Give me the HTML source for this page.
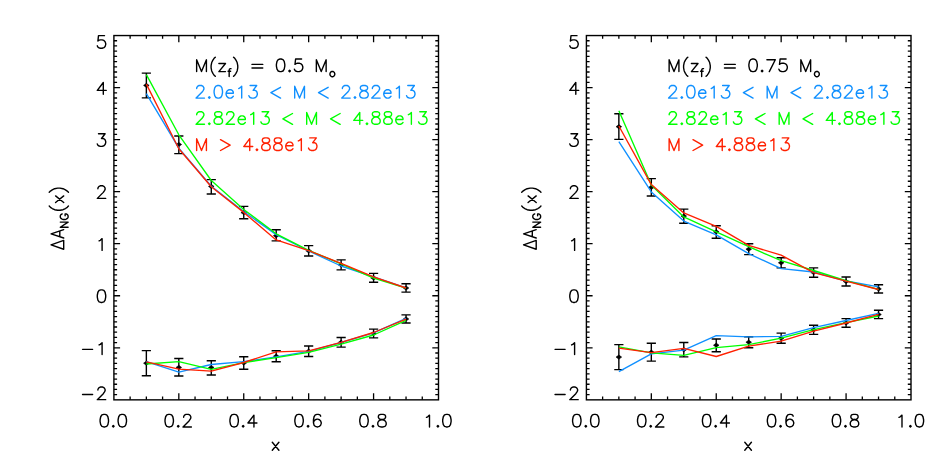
<!DOCTYPE html>
<html><head><meta charset="utf-8"><title>Delta A_NG(x)</title>
<style>html,body{margin:0;padding:0;background:#fff;font-family:"Liberation Sans",sans-serif}svg{display:block}</style>
</head><body>
<svg width="945" height="472" viewBox="0 0 945 472">
<style>.t{fill:none;stroke-width:1.4;stroke-linecap:round;stroke-linejoin:round}.l{fill:none;stroke-width:1.35;stroke-linejoin:round;stroke-linecap:butt}.h text{font-family:"Liberation Sans",sans-serif;font-size:17px;fill:none;stroke:none;opacity:0}</style>
<rect width="945" height="472" fill="#fff"/>
<rect x="113.9" y="35.55" width="324.6" height="364.3" fill="none" stroke="#000" stroke-width="1.4"/>
<path d="M130.13 399.85v-3.3M130.13 35.55v3.3M146.36 399.85v-3.3M146.36 35.55v3.3M162.59 399.85v-3.3M162.59 35.55v3.3M178.82 399.85v-6.6M178.82 35.55v6.6M195.05 399.85v-3.3M195.05 35.55v3.3M211.28 399.85v-3.3M211.28 35.55v3.3M227.51 399.85v-3.3M227.51 35.55v3.3M243.74 399.85v-6.6M243.74 35.55v6.6M259.97 399.85v-3.3M259.97 35.55v3.3M276.2 399.85v-3.3M276.2 35.55v3.3M292.43 399.85v-3.3M292.43 35.55v3.3M308.66 399.85v-6.6M308.66 35.55v6.6M324.89 399.85v-3.3M324.89 35.55v3.3M341.12 399.85v-3.3M341.12 35.55v3.3M357.35 399.85v-3.3M357.35 35.55v3.3M373.58 399.85v-6.6M373.58 35.55v6.6M389.81 399.85v-3.3M389.81 35.55v3.3M406.04 399.85v-3.3M406.04 35.55v3.3M422.27 399.85v-3.3M422.27 35.55v3.3M113.9 40.75h3.2M438.5 40.75h-3.2M113.9 45.96h3.2M438.5 45.96h-3.2M113.9 51.16h3.2M438.5 51.16h-3.2M113.9 56.37h3.2M438.5 56.37h-3.2M113.9 61.57h3.2M438.5 61.57h-3.2M113.9 66.78h3.2M438.5 66.78h-3.2M113.9 71.98h3.2M438.5 71.98h-3.2M113.9 77.18h3.2M438.5 77.18h-3.2M113.9 82.39h3.2M438.5 82.39h-3.2M113.9 87.59h6.2M438.5 87.59h-6.2M113.9 92.8h3.2M438.5 92.8h-3.2M113.9 98h3.2M438.5 98h-3.2M113.9 103.21h3.2M438.5 103.21h-3.2M113.9 108.41h3.2M438.5 108.41h-3.2M113.9 113.61h3.2M438.5 113.61h-3.2M113.9 118.82h3.2M438.5 118.82h-3.2M113.9 124.02h3.2M438.5 124.02h-3.2M113.9 129.23h3.2M438.5 129.23h-3.2M113.9 134.43h3.2M438.5 134.43h-3.2M113.9 139.64h6.2M438.5 139.64h-6.2M113.9 144.84h3.2M438.5 144.84h-3.2M113.9 150.04h3.2M438.5 150.04h-3.2M113.9 155.25h3.2M438.5 155.25h-3.2M113.9 160.45h3.2M438.5 160.45h-3.2M113.9 165.66h3.2M438.5 165.66h-3.2M113.9 170.86h3.2M438.5 170.86h-3.2M113.9 176.07h3.2M438.5 176.07h-3.2M113.9 181.27h3.2M438.5 181.27h-3.2M113.9 186.47h3.2M438.5 186.47h-3.2M113.9 191.68h6.2M438.5 191.68h-6.2M113.9 196.88h3.2M438.5 196.88h-3.2M113.9 202.09h3.2M438.5 202.09h-3.2M113.9 207.29h3.2M438.5 207.29h-3.2M113.9 212.5h3.2M438.5 212.5h-3.2M113.9 217.7h3.2M438.5 217.7h-3.2M113.9 222.9h3.2M438.5 222.9h-3.2M113.9 228.11h3.2M438.5 228.11h-3.2M113.9 233.31h3.2M438.5 233.31h-3.2M113.9 238.52h3.2M438.5 238.52h-3.2M113.9 243.72h6.2M438.5 243.72h-6.2M113.9 248.93h3.2M438.5 248.93h-3.2M113.9 254.13h3.2M438.5 254.13h-3.2M113.9 259.33h3.2M438.5 259.33h-3.2M113.9 264.54h3.2M438.5 264.54h-3.2M113.9 269.74h3.2M438.5 269.74h-3.2M113.9 274.95h3.2M438.5 274.95h-3.2M113.9 280.15h3.2M438.5 280.15h-3.2M113.9 285.36h3.2M438.5 285.36h-3.2M113.9 290.56h3.2M438.5 290.56h-3.2M113.9 295.76h6.2M438.5 295.76h-6.2M113.9 300.97h3.2M438.5 300.97h-3.2M113.9 306.17h3.2M438.5 306.17h-3.2M113.9 311.38h3.2M438.5 311.38h-3.2M113.9 316.58h3.2M438.5 316.58h-3.2M113.9 321.79h3.2M438.5 321.79h-3.2M113.9 326.99h3.2M438.5 326.99h-3.2M113.9 332.19h3.2M438.5 332.19h-3.2M113.9 337.4h3.2M438.5 337.4h-3.2M113.9 342.6h3.2M438.5 342.6h-3.2M113.9 347.81h6.2M438.5 347.81h-6.2M113.9 353.01h3.2M438.5 353.01h-3.2M113.9 358.22h3.2M438.5 358.22h-3.2M113.9 363.42h3.2M438.5 363.42h-3.2M113.9 368.62h3.2M438.5 368.62h-3.2M113.9 373.83h3.2M438.5 373.83h-3.2M113.9 379.03h3.2M438.5 379.03h-3.2M113.9 384.24h3.2M438.5 384.24h-3.2M113.9 389.44h3.2M438.5 389.44h-3.2M113.9 394.65h3.2M438.5 394.65h-3.2" stroke="#000" stroke-width="1.3" fill="none"/>
<path class="t" d="M103.7 414.35L104.9 414.35L106.7 414.95L107.9 416.75L108.5 419.75L108.5 421.55L107.9 424.55L106.7 426.35L104.9 426.95L103.7 426.95L101.9 426.35L100.7 424.55L100.1 421.55L100.1 419.75L100.7 416.75L101.9 414.95L103.7 414.35M113.3 425.54L112.55 426.29L113.3 427.04L114.05 426.29L113.3 425.54M121.7 414.35L122.9 414.35L124.7 414.95L125.9 416.75L126.5 419.75L126.5 421.55L125.9 424.55L124.7 426.35L122.9 426.95L121.7 426.95L119.9 426.35L118.7 424.55L118.1 421.55L118.1 419.75L118.7 416.75L119.9 414.95L121.7 414.35M168.62 414.35L169.82 414.35L171.62 414.95L172.82 416.75L173.42 419.75L173.42 421.55L172.82 424.55L171.62 426.35L169.82 426.95L168.62 426.95L166.82 426.35L165.62 424.55L165.02 421.55L165.02 419.75L165.62 416.75L166.82 414.95L168.62 414.35M178.22 425.54L177.47 426.29L178.22 427.04L178.97 426.29L178.22 425.54M183.62 417.35L183.62 416.75L184.22 415.55L184.82 414.95L186.02 414.35L188.42 414.35L189.62 414.95L190.22 415.55L190.82 416.75L190.82 417.95L190.22 419.15L189.02 420.95L183.02 426.95L191.42 426.95M233.54 414.35L234.74 414.35L236.54 414.95L237.74 416.75L238.34 419.75L238.34 421.55L237.74 424.55L236.54 426.35L234.74 426.95L233.54 426.95L231.74 426.35L230.54 424.55L229.94 421.55L229.94 419.75L230.54 416.75L231.74 414.95L233.54 414.35M243.14 425.54L242.39 426.29L243.14 427.04L243.89 426.29L243.14 425.54M253.94 426.95L253.94 415.13L247.94 423.01L256.94 423.01M298.46 414.35L299.66 414.35L301.46 414.95L302.66 416.75L303.26 419.75L303.26 421.55L302.66 424.55L301.46 426.35L299.66 426.95L298.46 426.95L296.66 426.35L295.46 424.55L294.86 421.55L294.86 419.75L295.46 416.75L296.66 414.95L298.46 414.35M308.06 425.54L307.31 426.29L308.06 427.04L308.81 426.29L308.06 425.54M320.66 416.15L320.06 414.95L318.26 414.35L317.06 414.35L315.26 414.95L314.06 416.75L313.46 419.75L313.46 422.75L314.06 420.95L315.26 419.75L317.06 419.15L317.66 419.15L319.46 419.75L320.66 420.95L321.26 422.75L321.26 423.35L320.66 425.15L319.46 426.35L317.66 426.95L317.06 426.95L315.26 426.35L314.06 425.15L313.46 422.75M363.38 414.35L364.58 414.35L366.38 414.95L367.58 416.75L368.18 419.75L368.18 421.55L367.58 424.55L366.38 426.35L364.58 426.95L363.38 426.95L361.58 426.35L360.38 424.55L359.78 421.55L359.78 419.75L360.38 416.75L361.58 414.95L363.38 414.35M372.98 425.54L372.23 426.29L372.98 427.04L373.73 426.29L372.98 425.54M380.78 414.35L383.18 414.35L384.98 414.95L385.58 416.15L385.58 417.35L384.98 418.55L383.78 419.15L381.38 419.75L379.58 420.35L378.38 421.55L377.78 422.75L377.78 424.55L378.38 425.75L378.98 426.35L380.78 426.95L383.18 426.95L384.98 426.35L385.58 425.75L386.18 424.55L386.18 422.75L385.58 421.55L384.38 420.35L382.58 419.75L380.18 419.15L378.98 418.55L378.38 417.35L378.38 416.15L378.98 414.95L380.78 414.35M429.5 426.95L429.5 415.13L427.7 416.82L426.5 417.38M437.9 425.54L437.15 426.29L437.9 427.04L438.65 426.29L437.9 425.54M446.3 414.35L447.5 414.35L449.3 414.95L450.5 416.75L451.1 419.75L451.1 421.55L450.5 424.55L449.3 426.35L447.5 426.95L446.3 426.95L444.5 426.35L443.3 424.55L442.7 421.55L442.7 419.75L443.3 416.75L444.5 414.95L446.3 414.35M104.5 35.65L98.5 35.65L97.9 41.05L98.5 40.45L100.3 39.85L102.1 39.85L103.9 40.45L105.1 41.65L105.7 43.45L105.7 44.65L105.1 46.45L103.9 47.65L102.1 48.25L100.3 48.25L98.5 47.65L97.9 47.05L97.3 45.85M103.3 94.29L103.3 82.47L97.3 90.35L106.3 90.35M98.5 133.74L105.1 133.74L101.5 138.54L103.3 138.54L104.5 139.14L105.1 139.74L105.7 141.54L105.7 142.74L105.1 144.54L103.9 145.74L102.1 146.34L100.3 146.34L98.5 145.74L97.9 145.14L97.3 143.94M97.9 188.78L97.9 188.18L98.5 186.98L99.1 186.38L100.3 185.78L102.7 185.78L103.9 186.38L104.5 186.98L105.1 188.18L105.1 189.38L104.5 190.58L103.3 192.38L97.3 198.38L105.7 198.38M102.1 250.42L102.1 238.6L100.3 240.29L99.1 240.85M100.9 289.86L102.1 289.86L103.9 290.46L105.1 292.26L105.7 295.26L105.7 297.06L105.1 300.06L103.9 301.86L102.1 302.46L100.9 302.46L99.1 301.86L97.9 300.06L97.3 297.06L97.3 295.26L97.9 292.26L99.1 290.46L100.9 289.86M82.54 349.35L92.62 349.35M102.1 354.51L102.1 342.69L100.3 344.38L99.1 344.94M82.54 394.49L92.62 394.49M97.9 390.05L97.9 389.45L98.5 388.25L99.1 387.65L100.3 387.05L102.7 387.05L103.9 387.65L104.5 388.25L105.1 389.45L105.1 390.65L104.5 391.85L103.3 393.65L97.3 399.65L105.7 399.65M272.3 442.2L278.9 450.3M278.9 442.2L272.3 450.3M51.1 244.8L63.7 249.24L63.7 240.36L51.1 244.8M63.7 238.02L51.1 233.82L63.7 229.62M59.8 236.72L59.8 230.92M68.1 227.29L60.29 227.29L68.1 222.08L60.29 222.08M62.15 213.9L61.4 214.27L60.66 215.02L60.29 215.76L60.29 217.25L60.66 217.99L61.4 218.74L62.15 219.11L63.26 219.48L65.12 219.48L66.24 219.11L66.98 218.74L67.73 217.99L68.1 217.25L68.1 215.76L67.73 215.02L66.98 214.27L66.24 213.9L65.12 213.9L65.12 215.76M49.24 206.11L50.44 207.31L52.24 208.51L54.64 209.71L57.64 210.31L60.04 210.31L63.04 209.71L65.44 208.51L67.24 207.31L68.44 206.11M55.6 202.51L63.7 195.91M55.6 195.91L63.7 202.51M49.24 192.31L50.44 191.11L52.24 189.91L54.64 188.71L57.64 188.11L60.04 188.11L63.04 188.71L65.44 189.91L67.24 191.11L68.44 192.31M196.64 71.6L196.64 59.78L201.5 71.6L206.42 59.78L206.42 71.6M215.3 57.14L214.1 58.34L212.9 60.14L211.7 62.54L211.1 65.54L211.1 67.94L211.7 70.94L212.9 73.34L214.1 75.14L215.3 76.34M218.9 63.5L225.5 63.5L218.9 71.6L225.5 71.6M231.02 68.63L230.28 68.63L229.53 69.01L229.16 70.12L229.16 76.45M228.04 71.24L230.65 71.24M233.56 57.14L234.76 58.34L235.96 60.14L237.16 62.54L237.76 65.54L237.76 67.94L237.16 70.94L235.96 73.34L234.76 75.14L233.56 76.34M251.98 64.4L262.78 64.4M251.98 68L262.78 68M280 59L281.2 59L283 59.6L284.2 61.4L284.8 64.4L284.8 66.2L284.2 69.2L283 71L281.2 71.6L280 71.6L278.2 71L277 69.2L276.4 66.2L276.4 64.4L277 61.4L278.2 59.6L280 59M289.6 70.19L288.85 70.94L289.6 71.69L290.35 70.94L289.6 70.19M301.6 59L295.6 59L295 64.4L295.6 63.8L297.4 63.2L299.2 63.2L301 63.8L302.2 65L302.8 66.8L302.8 68L302.2 69.8L301 71L299.2 71.6L297.4 71.6L295.6 71L295 70.4L294.4 69.2M316.36 71.6L316.36 59.78L321.22 71.6L326.14 59.78L326.14 71.6M331.81 71.5L332.93 71.5L333.67 71.87L334.41 72.61L334.79 73.73L334.79 74.47L334.41 75.59L333.67 76.33L332.93 76.71L331.81 76.71L331.07 76.33L330.32 75.59L329.95 74.47L329.95 73.73L330.32 72.61L331.07 71.87L331.81 71.5" stroke="#000"/>
<path class="t" d="M196.7 88.5L196.7 87.9L197.3 86.7L197.9 86.1L199.1 85.5L201.5 85.5L202.7 86.1L203.3 86.7L203.9 87.9L203.9 89.1L203.3 90.3L202.1 92.1L196.1 98.1L204.5 98.1M209.3 96.69L208.55 97.44L209.3 98.19L210.05 97.44L209.3 96.69M217.7 85.5L218.9 85.5L220.7 86.1L221.9 87.9L222.5 90.9L222.5 92.7L221.9 95.7L220.7 97.5L218.9 98.1L217.7 98.1L215.9 97.5L214.7 95.7L214.1 92.7L214.1 90.9L214.7 87.9L215.9 86.1L217.7 85.5M226.1 93.3L226.7 91.5L227.9 90.3L229.1 89.7L230.9 89.7L232.1 90.3L232.7 90.9L233.3 92.1L233.3 93.3L226.1 93.3L226.1 94.5L226.7 96.3L227.9 97.5L229.1 98.1L230.9 98.1L232.1 97.5L233.3 96.3M241.7 98.1L241.7 86.28L239.9 87.97L238.7 88.53M250.1 85.5L256.7 85.5L253.1 90.3L254.9 90.3L256.1 90.9L256.7 91.5L257.3 93.3L257.3 94.5L256.7 96.3L255.5 97.5L253.7 98.1L251.9 98.1L250.1 97.5L249.5 96.9L248.9 95.7M280.52 87.3L270.92 92.7L280.52 98.1M294.68 98.1L294.68 86.28L299.54 98.1L304.46 86.28L304.46 98.1M328.16 87.3L318.56 92.7L328.16 98.1M342.38 88.5L342.38 87.9L342.98 86.7L343.58 86.1L344.78 85.5L347.18 85.5L348.38 86.1L348.98 86.7L349.58 87.9L349.58 89.1L348.98 90.3L347.78 92.1L341.78 98.1L350.18 98.1M354.98 96.69L354.23 97.44L354.98 98.19L355.73 97.44L354.98 96.69M362.78 85.5L365.18 85.5L366.98 86.1L367.58 87.3L367.58 88.5L366.98 89.7L365.78 90.3L363.38 90.9L361.58 91.5L360.38 92.7L359.78 93.9L359.78 95.7L360.38 96.9L360.98 97.5L362.78 98.1L365.18 98.1L366.98 97.5L367.58 96.9L368.18 95.7L368.18 93.9L367.58 92.7L366.38 91.5L364.58 90.9L362.18 90.3L360.98 89.7L360.38 88.5L360.38 87.3L360.98 86.1L362.78 85.5M372.38 88.5L372.38 87.9L372.98 86.7L373.58 86.1L374.78 85.5L377.18 85.5L378.38 86.1L378.98 86.7L379.58 87.9L379.58 89.1L378.98 90.3L377.78 92.1L371.78 98.1L380.18 98.1M383.78 93.3L384.38 91.5L385.58 90.3L386.78 89.7L388.58 89.7L389.78 90.3L390.38 90.9L390.98 92.1L390.98 93.3L383.78 93.3L383.78 94.5L384.38 96.3L385.58 97.5L386.78 98.1L388.58 98.1L389.78 97.5L390.98 96.3M399.38 98.1L399.38 86.28L397.58 87.97L396.38 88.53M407.78 85.5L414.38 85.5L410.78 90.3L412.58 90.3L413.78 90.9L414.38 91.5L414.98 93.3L414.98 94.5L414.38 96.3L413.18 97.5L411.38 98.1L409.58 98.1L407.78 97.5L407.18 96.9L406.58 95.7" stroke="#1090ff"/>
<path class="t" d="M196.7 114.7L196.7 114.1L197.3 112.9L197.9 112.3L199.1 111.7L201.5 111.7L202.7 112.3L203.3 112.9L203.9 114.1L203.9 115.3L203.3 116.5L202.1 118.3L196.1 124.3L204.5 124.3M209.3 122.89L208.55 123.64L209.3 124.39L210.05 123.64L209.3 122.89M217.1 111.7L219.5 111.7L221.3 112.3L221.9 113.5L221.9 114.7L221.3 115.9L220.1 116.5L217.7 117.1L215.9 117.7L214.7 118.9L214.1 120.1L214.1 121.9L214.7 123.1L215.3 123.7L217.1 124.3L219.5 124.3L221.3 123.7L221.9 123.1L222.5 121.9L222.5 120.1L221.9 118.9L220.7 117.7L218.9 117.1L216.5 116.5L215.3 115.9L214.7 114.7L214.7 113.5L215.3 112.3L217.1 111.7M226.7 114.7L226.7 114.1L227.3 112.9L227.9 112.3L229.1 111.7L231.5 111.7L232.7 112.3L233.3 112.9L233.9 114.1L233.9 115.3L233.3 116.5L232.1 118.3L226.1 124.3L234.5 124.3M238.1 119.5L238.7 117.7L239.9 116.5L241.1 115.9L242.9 115.9L244.1 116.5L244.7 117.1L245.3 118.3L245.3 119.5L238.1 119.5L238.1 120.7L238.7 122.5L239.9 123.7L241.1 124.3L242.9 124.3L244.1 123.7L245.3 122.5M253.7 124.3L253.7 112.48L251.9 114.17L250.7 114.73M262.1 111.7L268.7 111.7L265.1 116.5L266.9 116.5L268.1 117.1L268.7 117.7L269.3 119.5L269.3 120.7L268.7 122.5L267.5 123.7L265.7 124.3L263.9 124.3L262.1 123.7L261.5 123.1L260.9 121.9M292.52 113.5L282.92 118.9L292.52 124.3M306.68 124.3L306.68 112.48L311.54 124.3L316.46 112.48L316.46 124.3M340.16 113.5L330.56 118.9L340.16 124.3M359.78 124.3L359.78 112.48L353.78 120.36L362.78 120.36M366.98 122.89L366.23 123.64L366.98 124.39L367.73 123.64L366.98 122.89M374.78 111.7L377.18 111.7L378.98 112.3L379.58 113.5L379.58 114.7L378.98 115.9L377.78 116.5L375.38 117.1L373.58 117.7L372.38 118.9L371.78 120.1L371.78 121.9L372.38 123.1L372.98 123.7L374.78 124.3L377.18 124.3L378.98 123.7L379.58 123.1L380.18 121.9L380.18 120.1L379.58 118.9L378.38 117.7L376.58 117.1L374.18 116.5L372.98 115.9L372.38 114.7L372.38 113.5L372.98 112.3L374.78 111.7M386.78 111.7L389.18 111.7L390.98 112.3L391.58 113.5L391.58 114.7L390.98 115.9L389.78 116.5L387.38 117.1L385.58 117.7L384.38 118.9L383.78 120.1L383.78 121.9L384.38 123.1L384.98 123.7L386.78 124.3L389.18 124.3L390.98 123.7L391.58 123.1L392.18 121.9L392.18 120.1L391.58 118.9L390.38 117.7L388.58 117.1L386.18 116.5L384.98 115.9L384.38 114.7L384.38 113.5L384.98 112.3L386.78 111.7M395.78 119.5L396.38 117.7L397.58 116.5L398.78 115.9L400.58 115.9L401.78 116.5L402.38 117.1L402.98 118.3L402.98 119.5L395.78 119.5L395.78 120.7L396.38 122.5L397.58 123.7L398.78 124.3L400.58 124.3L401.78 123.7L402.98 122.5M411.38 124.3L411.38 112.48L409.58 114.17L408.38 114.73M419.78 111.7L426.38 111.7L422.78 116.5L424.58 116.5L425.78 117.1L426.38 117.7L426.98 119.5L426.98 120.7L426.38 122.5L425.18 123.7L423.38 124.3L421.58 124.3L419.78 123.7L419.18 123.1L418.58 121.9" stroke="#00ff00"/>
<path class="t" d="M196.64 150.5L196.64 138.68L201.5 150.5L206.42 138.68L206.42 150.5M220.52 139.7L230.12 145.1L220.52 150.5M249.74 150.5L249.74 138.68L243.74 146.56L252.74 146.56M256.94 149.09L256.19 149.84L256.94 150.59L257.69 149.84L256.94 149.09M264.74 137.9L267.14 137.9L268.94 138.5L269.54 139.7L269.54 140.9L268.94 142.1L267.74 142.7L265.34 143.3L263.54 143.9L262.34 145.1L261.74 146.3L261.74 148.1L262.34 149.3L262.94 149.9L264.74 150.5L267.14 150.5L268.94 149.9L269.54 149.3L270.14 148.1L270.14 146.3L269.54 145.1L268.34 143.9L266.54 143.3L264.14 142.7L262.94 142.1L262.34 140.9L262.34 139.7L262.94 138.5L264.74 137.9M276.74 137.9L279.14 137.9L280.94 138.5L281.54 139.7L281.54 140.9L280.94 142.1L279.74 142.7L277.34 143.3L275.54 143.9L274.34 145.1L273.74 146.3L273.74 148.1L274.34 149.3L274.94 149.9L276.74 150.5L279.14 150.5L280.94 149.9L281.54 149.3L282.14 148.1L282.14 146.3L281.54 145.1L280.34 143.9L278.54 143.3L276.14 142.7L274.94 142.1L274.34 140.9L274.34 139.7L274.94 138.5L276.74 137.9M285.74 145.7L286.34 143.9L287.54 142.7L288.74 142.1L290.54 142.1L291.74 142.7L292.34 143.3L292.94 144.5L292.94 145.7L285.74 145.7L285.74 146.9L286.34 148.7L287.54 149.9L288.74 150.5L290.54 150.5L291.74 149.9L292.94 148.7M301.34 150.5L301.34 138.68L299.54 140.37L298.34 140.93M309.74 137.9L316.34 137.9L312.74 142.7L314.54 142.7L315.74 143.3L316.34 143.9L316.94 145.7L316.94 146.9L316.34 148.7L315.14 149.9L313.34 150.5L311.54 150.5L309.74 149.9L309.14 149.3L308.54 148.1" stroke="#ff2000"/>
<path d="M146.36 73.1V97.9M141.76 73.1h9.2M141.76 97.9h9.2M178.82 136V153.6M174.22 136h9.2M174.22 153.6h9.2M211.28 179.6V194M206.68 179.6h9.2M206.68 194h9.2M243.74 206.4V218.8M239.14 206.4h9.2M239.14 218.8h9.2M276.2 229.7V240.9M271.6 229.7h9.2M271.6 240.9h9.2M308.66 245.6V256M304.06 245.6h9.2M304.06 256h9.2M341.12 259.9V269.9M336.52 259.9h9.2M336.52 269.9h9.2M373.58 273.4V282.3M368.98 273.4h9.2M368.98 282.3h9.2M406.04 283.8V292.1M401.44 283.8h9.2M401.44 292.1h9.2M146.36 350.6V375.7M141.76 350.6h9.2M141.76 375.7h9.2M178.82 358.5V376M174.22 358.5h9.2M174.22 376h9.2M211.28 360.8V375M206.68 360.8h9.2M206.68 375h9.2M243.74 356.8V369.2M239.14 356.8h9.2M239.14 369.2h9.2M276.2 350.7V361.7M271.6 350.7h9.2M271.6 361.7h9.2M308.66 346V356.5M304.06 346h9.2M304.06 356.5h9.2M341.12 337.5V347.1M336.52 337.5h9.2M336.52 347.1h9.2M373.58 329.1V337.9M368.98 329.1h9.2M368.98 337.9h9.2M406.04 314.9V323M401.44 314.9h9.2M401.44 323h9.2" stroke="#000" stroke-width="1.4" fill="none"/>
<path d="M146.36 83.3l2.8 2.1l-2.8 2.1l-2.8 -2.1zM178.82 142.4l2.8 2.1l-2.8 2.1l-2.8 -2.1zM211.28 184.3l2.8 2.1l-2.8 2.1l-2.8 -2.1zM243.74 210.5l2.8 2.1l-2.8 2.1l-2.8 -2.1zM276.2 233.6l2.8 2.1l-2.8 2.1l-2.8 -2.1zM308.66 248.7l2.8 2.1l-2.8 2.1l-2.8 -2.1zM341.12 262.8l2.8 2.1l-2.8 2.1l-2.8 -2.1zM373.58 275.8l2.8 2.1l-2.8 2.1l-2.8 -2.1zM406.04 285.9l2.8 2.1l-2.8 2.1l-2.8 -2.1zM146.36 361.1l2.8 2.1l-2.8 2.1l-2.8 -2.1zM178.82 365.3l2.8 2.1l-2.8 2.1l-2.8 -2.1zM211.28 365.4l2.8 2.1l-2.8 2.1l-2.8 -2.1zM243.74 360.9l2.8 2.1l-2.8 2.1l-2.8 -2.1zM276.2 354.1l2.8 2.1l-2.8 2.1l-2.8 -2.1zM308.66 349.1l2.8 2.1l-2.8 2.1l-2.8 -2.1zM341.12 340.2l2.8 2.1l-2.8 2.1l-2.8 -2.1zM373.58 331.4l2.8 2.1l-2.8 2.1l-2.8 -2.1zM406.04 316.9l2.8 2.1l-2.8 2.1l-2.8 -2.1z" fill="#000" stroke="#000" stroke-width="0.6"/>
<path class="l" d="M146.36 93.7L178.82 148.1L211.28 186.2L243.74 211.5L276.2 234.6L308.66 251L341.12 266L373.58 276.8L406.04 287.8M146.36 361.7L178.82 372.1L211.28 364.5L243.74 361.6L276.2 356.8L308.66 351.4L341.12 342.5L373.58 332.8L406.04 318.3" stroke="#1090ff"/>
<path class="l" d="M146.36 74.6L178.82 134.8L211.28 180.5L243.74 209.5L276.2 233.8L308.66 250.3L341.12 263.9L373.58 278.1L406.04 288.2M146.36 364L178.82 361.7L211.28 369.3L243.74 362.6L276.2 357.7L308.66 352.4L341.12 344.1L373.58 335L406.04 320.4" stroke="#00ff00"/>
<path class="l" d="M146.36 84.1L178.82 148.8L211.28 186.8L243.74 212.4L276.2 239.9L308.66 250.7L341.12 263.3L373.58 276.8L406.04 288M146.36 361.9L178.82 369.1L211.28 371.2L243.74 362.5L276.2 351.8L308.66 350.9L341.12 342.3L373.58 332.5L406.04 319.1" stroke="#ff2000"/>
<g class="h"><text x="113.9" y="427" text-anchor="middle">0.0</text><text x="178.82" y="427" text-anchor="middle">0.2</text><text x="243.74" y="427" text-anchor="middle">0.4</text><text x="308.66" y="427" text-anchor="middle">0.6</text><text x="373.58" y="427" text-anchor="middle">0.8</text><text x="438.5" y="427" text-anchor="middle">1.0</text><text x="106.9" y="41.55" text-anchor="end">5</text><text x="106.9" y="93.59" text-anchor="end">4</text><text x="106.9" y="145.64" text-anchor="end">3</text><text x="106.9" y="197.68" text-anchor="end">2</text><text x="106.9" y="249.72" text-anchor="end">1</text><text x="106.9" y="301.76" text-anchor="end">0</text><text x="106.9" y="353.81" text-anchor="end">-1</text><text x="106.9" y="405.85" text-anchor="end">-2</text><text x="276.2" y="450" text-anchor="middle">x</text><text transform="translate(63.9 218) rotate(-90)" text-anchor="middle">&#916;A<tspan dy="4" font-size="11">NG</tspan><tspan dy="-4">(x)</tspan></text><text x="193.9" y="72">M(z<tspan dy="4" font-size="11">f</tspan><tspan dy="-4"></tspan>) = 0.5 M<tspan dy="4" font-size="11">o</tspan></text><text x="193.9" y="98">2.0e13 &lt; M &lt; 2.82e13</text><text x="193.9" y="124">2.82e13 &lt; M &lt; 4.88e13</text><text x="193.9" y="150">M &gt; 4.88e13</text></g>
<rect x="586.4" y="35.55" width="324.6" height="364.3" fill="none" stroke="#000" stroke-width="1.4"/>
<path d="M602.63 399.85v-3.3M602.63 35.55v3.3M618.86 399.85v-3.3M618.86 35.55v3.3M635.09 399.85v-3.3M635.09 35.55v3.3M651.32 399.85v-6.6M651.32 35.55v6.6M667.55 399.85v-3.3M667.55 35.55v3.3M683.78 399.85v-3.3M683.78 35.55v3.3M700.01 399.85v-3.3M700.01 35.55v3.3M716.24 399.85v-6.6M716.24 35.55v6.6M732.47 399.85v-3.3M732.47 35.55v3.3M748.7 399.85v-3.3M748.7 35.55v3.3M764.93 399.85v-3.3M764.93 35.55v3.3M781.16 399.85v-6.6M781.16 35.55v6.6M797.39 399.85v-3.3M797.39 35.55v3.3M813.62 399.85v-3.3M813.62 35.55v3.3M829.85 399.85v-3.3M829.85 35.55v3.3M846.08 399.85v-6.6M846.08 35.55v6.6M862.31 399.85v-3.3M862.31 35.55v3.3M878.54 399.85v-3.3M878.54 35.55v3.3M894.77 399.85v-3.3M894.77 35.55v3.3M586.4 40.75h3.2M911 40.75h-3.2M586.4 45.96h3.2M911 45.96h-3.2M586.4 51.16h3.2M911 51.16h-3.2M586.4 56.37h3.2M911 56.37h-3.2M586.4 61.57h3.2M911 61.57h-3.2M586.4 66.78h3.2M911 66.78h-3.2M586.4 71.98h3.2M911 71.98h-3.2M586.4 77.18h3.2M911 77.18h-3.2M586.4 82.39h3.2M911 82.39h-3.2M586.4 87.59h6.2M911 87.59h-6.2M586.4 92.8h3.2M911 92.8h-3.2M586.4 98h3.2M911 98h-3.2M586.4 103.21h3.2M911 103.21h-3.2M586.4 108.41h3.2M911 108.41h-3.2M586.4 113.61h3.2M911 113.61h-3.2M586.4 118.82h3.2M911 118.82h-3.2M586.4 124.02h3.2M911 124.02h-3.2M586.4 129.23h3.2M911 129.23h-3.2M586.4 134.43h3.2M911 134.43h-3.2M586.4 139.64h6.2M911 139.64h-6.2M586.4 144.84h3.2M911 144.84h-3.2M586.4 150.04h3.2M911 150.04h-3.2M586.4 155.25h3.2M911 155.25h-3.2M586.4 160.45h3.2M911 160.45h-3.2M586.4 165.66h3.2M911 165.66h-3.2M586.4 170.86h3.2M911 170.86h-3.2M586.4 176.07h3.2M911 176.07h-3.2M586.4 181.27h3.2M911 181.27h-3.2M586.4 186.47h3.2M911 186.47h-3.2M586.4 191.68h6.2M911 191.68h-6.2M586.4 196.88h3.2M911 196.88h-3.2M586.4 202.09h3.2M911 202.09h-3.2M586.4 207.29h3.2M911 207.29h-3.2M586.4 212.5h3.2M911 212.5h-3.2M586.4 217.7h3.2M911 217.7h-3.2M586.4 222.9h3.2M911 222.9h-3.2M586.4 228.11h3.2M911 228.11h-3.2M586.4 233.31h3.2M911 233.31h-3.2M586.4 238.52h3.2M911 238.52h-3.2M586.4 243.72h6.2M911 243.72h-6.2M586.4 248.93h3.2M911 248.93h-3.2M586.4 254.13h3.2M911 254.13h-3.2M586.4 259.33h3.2M911 259.33h-3.2M586.4 264.54h3.2M911 264.54h-3.2M586.4 269.74h3.2M911 269.74h-3.2M586.4 274.95h3.2M911 274.95h-3.2M586.4 280.15h3.2M911 280.15h-3.2M586.4 285.36h3.2M911 285.36h-3.2M586.4 290.56h3.2M911 290.56h-3.2M586.4 295.76h6.2M911 295.76h-6.2M586.4 300.97h3.2M911 300.97h-3.2M586.4 306.17h3.2M911 306.17h-3.2M586.4 311.38h3.2M911 311.38h-3.2M586.4 316.58h3.2M911 316.58h-3.2M586.4 321.79h3.2M911 321.79h-3.2M586.4 326.99h3.2M911 326.99h-3.2M586.4 332.19h3.2M911 332.19h-3.2M586.4 337.4h3.2M911 337.4h-3.2M586.4 342.6h3.2M911 342.6h-3.2M586.4 347.81h6.2M911 347.81h-6.2M586.4 353.01h3.2M911 353.01h-3.2M586.4 358.22h3.2M911 358.22h-3.2M586.4 363.42h3.2M911 363.42h-3.2M586.4 368.62h3.2M911 368.62h-3.2M586.4 373.83h3.2M911 373.83h-3.2M586.4 379.03h3.2M911 379.03h-3.2M586.4 384.24h3.2M911 384.24h-3.2M586.4 389.44h3.2M911 389.44h-3.2M586.4 394.65h3.2M911 394.65h-3.2" stroke="#000" stroke-width="1.3" fill="none"/>
<path class="t" d="M576.2 414.35L577.4 414.35L579.2 414.95L580.4 416.75L581 419.75L581 421.55L580.4 424.55L579.2 426.35L577.4 426.95L576.2 426.95L574.4 426.35L573.2 424.55L572.6 421.55L572.6 419.75L573.2 416.75L574.4 414.95L576.2 414.35M585.8 425.54L585.05 426.29L585.8 427.04L586.55 426.29L585.8 425.54M594.2 414.35L595.4 414.35L597.2 414.95L598.4 416.75L599 419.75L599 421.55L598.4 424.55L597.2 426.35L595.4 426.95L594.2 426.95L592.4 426.35L591.2 424.55L590.6 421.55L590.6 419.75L591.2 416.75L592.4 414.95L594.2 414.35M641.12 414.35L642.32 414.35L644.12 414.95L645.32 416.75L645.92 419.75L645.92 421.55L645.32 424.55L644.12 426.35L642.32 426.95L641.12 426.95L639.32 426.35L638.12 424.55L637.52 421.55L637.52 419.75L638.12 416.75L639.32 414.95L641.12 414.35M650.72 425.54L649.97 426.29L650.72 427.04L651.47 426.29L650.72 425.54M656.12 417.35L656.12 416.75L656.72 415.55L657.32 414.95L658.52 414.35L660.92 414.35L662.12 414.95L662.72 415.55L663.32 416.75L663.32 417.95L662.72 419.15L661.52 420.95L655.52 426.95L663.92 426.95M706.04 414.35L707.24 414.35L709.04 414.95L710.24 416.75L710.84 419.75L710.84 421.55L710.24 424.55L709.04 426.35L707.24 426.95L706.04 426.95L704.24 426.35L703.04 424.55L702.44 421.55L702.44 419.75L703.04 416.75L704.24 414.95L706.04 414.35M715.64 425.54L714.89 426.29L715.64 427.04L716.39 426.29L715.64 425.54M726.44 426.95L726.44 415.13L720.44 423.01L729.44 423.01M770.96 414.35L772.16 414.35L773.96 414.95L775.16 416.75L775.76 419.75L775.76 421.55L775.16 424.55L773.96 426.35L772.16 426.95L770.96 426.95L769.16 426.35L767.96 424.55L767.36 421.55L767.36 419.75L767.96 416.75L769.16 414.95L770.96 414.35M780.56 425.54L779.81 426.29L780.56 427.04L781.31 426.29L780.56 425.54M793.16 416.15L792.56 414.95L790.76 414.35L789.56 414.35L787.76 414.95L786.56 416.75L785.96 419.75L785.96 422.75L786.56 420.95L787.76 419.75L789.56 419.15L790.16 419.15L791.96 419.75L793.16 420.95L793.76 422.75L793.76 423.35L793.16 425.15L791.96 426.35L790.16 426.95L789.56 426.95L787.76 426.35L786.56 425.15L785.96 422.75M835.88 414.35L837.08 414.35L838.88 414.95L840.08 416.75L840.68 419.75L840.68 421.55L840.08 424.55L838.88 426.35L837.08 426.95L835.88 426.95L834.08 426.35L832.88 424.55L832.28 421.55L832.28 419.75L832.88 416.75L834.08 414.95L835.88 414.35M845.48 425.54L844.73 426.29L845.48 427.04L846.23 426.29L845.48 425.54M853.28 414.35L855.68 414.35L857.48 414.95L858.08 416.15L858.08 417.35L857.48 418.55L856.28 419.15L853.88 419.75L852.08 420.35L850.88 421.55L850.28 422.75L850.28 424.55L850.88 425.75L851.48 426.35L853.28 426.95L855.68 426.95L857.48 426.35L858.08 425.75L858.68 424.55L858.68 422.75L858.08 421.55L856.88 420.35L855.08 419.75L852.68 419.15L851.48 418.55L850.88 417.35L850.88 416.15L851.48 414.95L853.28 414.35M902 426.95L902 415.13L900.2 416.82L899 417.38M910.4 425.54L909.65 426.29L910.4 427.04L911.15 426.29L910.4 425.54M918.8 414.35L920 414.35L921.8 414.95L923 416.75L923.6 419.75L923.6 421.55L923 424.55L921.8 426.35L920 426.95L918.8 426.95L917 426.35L915.8 424.55L915.2 421.55L915.2 419.75L915.8 416.75L917 414.95L918.8 414.35M577 35.65L571 35.65L570.4 41.05L571 40.45L572.8 39.85L574.6 39.85L576.4 40.45L577.6 41.65L578.2 43.45L578.2 44.65L577.6 46.45L576.4 47.65L574.6 48.25L572.8 48.25L571 47.65L570.4 47.05L569.8 45.85M575.8 94.29L575.8 82.47L569.8 90.35L578.8 90.35M571 133.74L577.6 133.74L574 138.54L575.8 138.54L577 139.14L577.6 139.74L578.2 141.54L578.2 142.74L577.6 144.54L576.4 145.74L574.6 146.34L572.8 146.34L571 145.74L570.4 145.14L569.8 143.94M570.4 188.78L570.4 188.18L571 186.98L571.6 186.38L572.8 185.78L575.2 185.78L576.4 186.38L577 186.98L577.6 188.18L577.6 189.38L577 190.58L575.8 192.38L569.8 198.38L578.2 198.38M574.6 250.42L574.6 238.6L572.8 240.29L571.6 240.85M573.4 289.86L574.6 289.86L576.4 290.46L577.6 292.26L578.2 295.26L578.2 297.06L577.6 300.06L576.4 301.86L574.6 302.46L573.4 302.46L571.6 301.86L570.4 300.06L569.8 297.06L569.8 295.26L570.4 292.26L571.6 290.46L573.4 289.86M555.04 349.35L565.12 349.35M574.6 354.51L574.6 342.69L572.8 344.38L571.6 344.94M555.04 394.49L565.12 394.49M570.4 390.05L570.4 389.45L571 388.25L571.6 387.65L572.8 387.05L575.2 387.05L576.4 387.65L577 388.25L577.6 389.45L577.6 390.65L577 391.85L575.8 393.65L569.8 399.65L578.2 399.65M744.8 442.2L751.4 450.3M751.4 442.2L744.8 450.3M523.6 244.8L536.2 249.24L536.2 240.36L523.6 244.8M536.2 238.02L523.6 233.82L536.2 229.62M532.3 236.72L532.3 230.92M540.6 227.29L532.79 227.29L540.6 222.08L532.79 222.08M534.65 213.9L533.9 214.27L533.16 215.02L532.79 215.76L532.79 217.25L533.16 217.99L533.9 218.74L534.65 219.11L535.76 219.48L537.62 219.48L538.74 219.11L539.48 218.74L540.23 217.99L540.6 217.25L540.6 215.76L540.23 215.02L539.48 214.27L538.74 213.9L537.62 213.9L537.62 215.76M521.74 206.11L522.94 207.31L524.74 208.51L527.14 209.71L530.14 210.31L532.54 210.31L535.54 209.71L537.94 208.51L539.74 207.31L540.94 206.11M528.1 202.51L536.2 195.91M528.1 195.91L536.2 202.51M521.74 192.31L522.94 191.11L524.74 189.91L527.14 188.71L530.14 188.11L532.54 188.11L535.54 188.71L537.94 189.91L539.74 191.11L540.94 192.31M669.14 71.6L669.14 59.78L674 71.6L678.92 59.78L678.92 71.6M687.8 57.14L686.6 58.34L685.4 60.14L684.2 62.54L683.6 65.54L683.6 67.94L684.2 70.94L685.4 73.34L686.6 75.14L687.8 76.34M691.4 63.5L698 63.5L691.4 71.6L698 71.6M703.52 68.63L702.78 68.63L702.03 69.01L701.66 70.12L701.66 76.45M700.54 71.24L703.15 71.24M706.06 57.14L707.26 58.34L708.46 60.14L709.66 62.54L710.26 65.54L710.26 67.94L709.66 70.94L708.46 73.34L707.26 75.14L706.06 76.34M724.48 64.4L735.28 64.4M724.48 68L735.28 68M752.5 59L753.7 59L755.5 59.6L756.7 61.4L757.3 64.4L757.3 66.2L756.7 69.2L755.5 71L753.7 71.6L752.5 71.6L750.7 71L749.5 69.2L748.9 66.2L748.9 64.4L749.5 61.4L750.7 59.6L752.5 59M762.1 70.19L761.35 70.94L762.1 71.69L762.85 70.94L762.1 70.19M766.9 59.78L775.3 59.78L769.3 71.6M786.1 59L780.1 59L779.5 64.4L780.1 63.8L781.9 63.2L783.7 63.2L785.5 63.8L786.7 65L787.3 66.8L787.3 68L786.7 69.8L785.5 71L783.7 71.6L781.9 71.6L780.1 71L779.5 70.4L778.9 69.2M800.86 71.6L800.86 59.78L805.72 71.6L810.64 59.78L810.64 71.6M816.31 71.5L817.43 71.5L818.17 71.87L818.91 72.61L819.29 73.73L819.29 74.47L818.91 75.59L818.17 76.33L817.43 76.71L816.31 76.71L815.57 76.33L814.82 75.59L814.45 74.47L814.45 73.73L814.82 72.61L815.57 71.87L816.31 71.5" stroke="#000"/>
<path class="t" d="M669.2 88.5L669.2 87.9L669.8 86.7L670.4 86.1L671.6 85.5L674 85.5L675.2 86.1L675.8 86.7L676.4 87.9L676.4 89.1L675.8 90.3L674.6 92.1L668.6 98.1L677 98.1M681.8 96.69L681.05 97.44L681.8 98.19L682.55 97.44L681.8 96.69M690.2 85.5L691.4 85.5L693.2 86.1L694.4 87.9L695 90.9L695 92.7L694.4 95.7L693.2 97.5L691.4 98.1L690.2 98.1L688.4 97.5L687.2 95.7L686.6 92.7L686.6 90.9L687.2 87.9L688.4 86.1L690.2 85.5M698.6 93.3L699.2 91.5L700.4 90.3L701.6 89.7L703.4 89.7L704.6 90.3L705.2 90.9L705.8 92.1L705.8 93.3L698.6 93.3L698.6 94.5L699.2 96.3L700.4 97.5L701.6 98.1L703.4 98.1L704.6 97.5L705.8 96.3M714.2 98.1L714.2 86.28L712.4 87.97L711.2 88.53M722.6 85.5L729.2 85.5L725.6 90.3L727.4 90.3L728.6 90.9L729.2 91.5L729.8 93.3L729.8 94.5L729.2 96.3L728 97.5L726.2 98.1L724.4 98.1L722.6 97.5L722 96.9L721.4 95.7M753.02 87.3L743.42 92.7L753.02 98.1M767.18 98.1L767.18 86.28L772.04 98.1L776.96 86.28L776.96 98.1M800.66 87.3L791.06 92.7L800.66 98.1M814.88 88.5L814.88 87.9L815.48 86.7L816.08 86.1L817.28 85.5L819.68 85.5L820.88 86.1L821.48 86.7L822.08 87.9L822.08 89.1L821.48 90.3L820.28 92.1L814.28 98.1L822.68 98.1M827.48 96.69L826.73 97.44L827.48 98.19L828.23 97.44L827.48 96.69M835.28 85.5L837.68 85.5L839.48 86.1L840.08 87.3L840.08 88.5L839.48 89.7L838.28 90.3L835.88 90.9L834.08 91.5L832.88 92.7L832.28 93.9L832.28 95.7L832.88 96.9L833.48 97.5L835.28 98.1L837.68 98.1L839.48 97.5L840.08 96.9L840.68 95.7L840.68 93.9L840.08 92.7L838.88 91.5L837.08 90.9L834.68 90.3L833.48 89.7L832.88 88.5L832.88 87.3L833.48 86.1L835.28 85.5M844.88 88.5L844.88 87.9L845.48 86.7L846.08 86.1L847.28 85.5L849.68 85.5L850.88 86.1L851.48 86.7L852.08 87.9L852.08 89.1L851.48 90.3L850.28 92.1L844.28 98.1L852.68 98.1M856.28 93.3L856.88 91.5L858.08 90.3L859.28 89.7L861.08 89.7L862.28 90.3L862.88 90.9L863.48 92.1L863.48 93.3L856.28 93.3L856.28 94.5L856.88 96.3L858.08 97.5L859.28 98.1L861.08 98.1L862.28 97.5L863.48 96.3M871.88 98.1L871.88 86.28L870.08 87.97L868.88 88.53M880.28 85.5L886.88 85.5L883.28 90.3L885.08 90.3L886.28 90.9L886.88 91.5L887.48 93.3L887.48 94.5L886.88 96.3L885.68 97.5L883.88 98.1L882.08 98.1L880.28 97.5L879.68 96.9L879.08 95.7" stroke="#1090ff"/>
<path class="t" d="M669.2 114.7L669.2 114.1L669.8 112.9L670.4 112.3L671.6 111.7L674 111.7L675.2 112.3L675.8 112.9L676.4 114.1L676.4 115.3L675.8 116.5L674.6 118.3L668.6 124.3L677 124.3M681.8 122.89L681.05 123.64L681.8 124.39L682.55 123.64L681.8 122.89M689.6 111.7L692 111.7L693.8 112.3L694.4 113.5L694.4 114.7L693.8 115.9L692.6 116.5L690.2 117.1L688.4 117.7L687.2 118.9L686.6 120.1L686.6 121.9L687.2 123.1L687.8 123.7L689.6 124.3L692 124.3L693.8 123.7L694.4 123.1L695 121.9L695 120.1L694.4 118.9L693.2 117.7L691.4 117.1L689 116.5L687.8 115.9L687.2 114.7L687.2 113.5L687.8 112.3L689.6 111.7M699.2 114.7L699.2 114.1L699.8 112.9L700.4 112.3L701.6 111.7L704 111.7L705.2 112.3L705.8 112.9L706.4 114.1L706.4 115.3L705.8 116.5L704.6 118.3L698.6 124.3L707 124.3M710.6 119.5L711.2 117.7L712.4 116.5L713.6 115.9L715.4 115.9L716.6 116.5L717.2 117.1L717.8 118.3L717.8 119.5L710.6 119.5L710.6 120.7L711.2 122.5L712.4 123.7L713.6 124.3L715.4 124.3L716.6 123.7L717.8 122.5M726.2 124.3L726.2 112.48L724.4 114.17L723.2 114.73M734.6 111.7L741.2 111.7L737.6 116.5L739.4 116.5L740.6 117.1L741.2 117.7L741.8 119.5L741.8 120.7L741.2 122.5L740 123.7L738.2 124.3L736.4 124.3L734.6 123.7L734 123.1L733.4 121.9M765.02 113.5L755.42 118.9L765.02 124.3M779.18 124.3L779.18 112.48L784.04 124.3L788.96 112.48L788.96 124.3M812.66 113.5L803.06 118.9L812.66 124.3M832.28 124.3L832.28 112.48L826.28 120.36L835.28 120.36M839.48 122.89L838.73 123.64L839.48 124.39L840.23 123.64L839.48 122.89M847.28 111.7L849.68 111.7L851.48 112.3L852.08 113.5L852.08 114.7L851.48 115.9L850.28 116.5L847.88 117.1L846.08 117.7L844.88 118.9L844.28 120.1L844.28 121.9L844.88 123.1L845.48 123.7L847.28 124.3L849.68 124.3L851.48 123.7L852.08 123.1L852.68 121.9L852.68 120.1L852.08 118.9L850.88 117.7L849.08 117.1L846.68 116.5L845.48 115.9L844.88 114.7L844.88 113.5L845.48 112.3L847.28 111.7M859.28 111.7L861.68 111.7L863.48 112.3L864.08 113.5L864.08 114.7L863.48 115.9L862.28 116.5L859.88 117.1L858.08 117.7L856.88 118.9L856.28 120.1L856.28 121.9L856.88 123.1L857.48 123.7L859.28 124.3L861.68 124.3L863.48 123.7L864.08 123.1L864.68 121.9L864.68 120.1L864.08 118.9L862.88 117.7L861.08 117.1L858.68 116.5L857.48 115.9L856.88 114.7L856.88 113.5L857.48 112.3L859.28 111.7M868.28 119.5L868.88 117.7L870.08 116.5L871.28 115.9L873.08 115.9L874.28 116.5L874.88 117.1L875.48 118.3L875.48 119.5L868.28 119.5L868.28 120.7L868.88 122.5L870.08 123.7L871.28 124.3L873.08 124.3L874.28 123.7L875.48 122.5M883.88 124.3L883.88 112.48L882.08 114.17L880.88 114.73M892.28 111.7L898.88 111.7L895.28 116.5L897.08 116.5L898.28 117.1L898.88 117.7L899.48 119.5L899.48 120.7L898.88 122.5L897.68 123.7L895.88 124.3L894.08 124.3L892.28 123.7L891.68 123.1L891.08 121.9" stroke="#00ff00"/>
<path class="t" d="M669.14 150.5L669.14 138.68L674 150.5L678.92 138.68L678.92 150.5M693.02 139.7L702.62 145.1L693.02 150.5M722.24 150.5L722.24 138.68L716.24 146.56L725.24 146.56M729.44 149.09L728.69 149.84L729.44 150.59L730.19 149.84L729.44 149.09M737.24 137.9L739.64 137.9L741.44 138.5L742.04 139.7L742.04 140.9L741.44 142.1L740.24 142.7L737.84 143.3L736.04 143.9L734.84 145.1L734.24 146.3L734.24 148.1L734.84 149.3L735.44 149.9L737.24 150.5L739.64 150.5L741.44 149.9L742.04 149.3L742.64 148.1L742.64 146.3L742.04 145.1L740.84 143.9L739.04 143.3L736.64 142.7L735.44 142.1L734.84 140.9L734.84 139.7L735.44 138.5L737.24 137.9M749.24 137.9L751.64 137.9L753.44 138.5L754.04 139.7L754.04 140.9L753.44 142.1L752.24 142.7L749.84 143.3L748.04 143.9L746.84 145.1L746.24 146.3L746.24 148.1L746.84 149.3L747.44 149.9L749.24 150.5L751.64 150.5L753.44 149.9L754.04 149.3L754.64 148.1L754.64 146.3L754.04 145.1L752.84 143.9L751.04 143.3L748.64 142.7L747.44 142.1L746.84 140.9L746.84 139.7L747.44 138.5L749.24 137.9M758.24 145.7L758.84 143.9L760.04 142.7L761.24 142.1L763.04 142.1L764.24 142.7L764.84 143.3L765.44 144.5L765.44 145.7L758.24 145.7L758.24 146.9L758.84 148.7L760.04 149.9L761.24 150.5L763.04 150.5L764.24 149.9L765.44 148.7M773.84 150.5L773.84 138.68L772.04 140.37L770.84 140.93M782.24 137.9L788.84 137.9L785.24 142.7L787.04 142.7L788.24 143.3L788.84 143.9L789.44 145.7L789.44 146.9L788.84 148.7L787.64 149.9L785.84 150.5L784.04 150.5L782.24 149.9L781.64 149.3L781.04 148.1" stroke="#ff2000"/>
<path d="M618.86 113.7V139.4M614.26 113.7h9.2M614.26 139.4h9.2M651.32 178.6V196M646.72 178.6h9.2M646.72 196h9.2M683.78 209.1V223.3M679.18 209.1h9.2M679.18 223.3h9.2M716.24 225.8V238.3M711.64 225.8h9.2M711.64 238.3h9.2M748.7 243.8V254.6M744.1 243.8h9.2M744.1 254.6h9.2M781.16 257.7V267.9M776.56 257.7h9.2M776.56 267.9h9.2M813.62 267.9V277.2M809.02 267.9h9.2M809.02 277.2h9.2M846.08 277V286M841.48 277h9.2M841.48 286h9.2M878.54 284.8V293M873.94 284.8h9.2M873.94 293h9.2M618.86 344.6V369.6M614.26 344.6h9.2M614.26 369.6h9.2M651.32 343.3V361.1M646.72 343.3h9.2M646.72 361.1h9.2M683.78 342.5V356.9M679.18 342.5h9.2M679.18 356.9h9.2M716.24 339V351.7M711.64 339h9.2M711.64 351.7h9.2M748.7 336.7V347.7M744.1 336.7h9.2M744.1 347.7h9.2M781.16 333.1V343.3M776.56 333.1h9.2M776.56 343.3h9.2M813.62 325.2V334.4M809.02 325.2h9.2M809.02 334.4h9.2M846.08 318.6V327.2M841.48 318.6h9.2M841.48 327.2h9.2M878.54 310.3V318.6M873.94 310.3h9.2M873.94 318.6h9.2" stroke="#000" stroke-width="1.4" fill="none"/>
<path d="M618.86 124.6l2.8 2.1l-2.8 2.1l-2.8 -2.1zM651.32 185.3l2.8 2.1l-2.8 2.1l-2.8 -2.1zM683.78 214l2.8 2.1l-2.8 2.1l-2.8 -2.1zM716.24 229.7l2.8 2.1l-2.8 2.1l-2.8 -2.1zM748.7 247.1l2.8 2.1l-2.8 2.1l-2.8 -2.1zM781.16 260.7l2.8 2.1l-2.8 2.1l-2.8 -2.1zM813.62 270.4l2.8 2.1l-2.8 2.1l-2.8 -2.1zM846.08 279.4l2.8 2.1l-2.8 2.1l-2.8 -2.1zM878.54 286.8l2.8 2.1l-2.8 2.1l-2.8 -2.1zM618.86 355l2.8 2.1l-2.8 2.1l-2.8 -2.1zM651.32 350.1l2.8 2.1l-2.8 2.1l-2.8 -2.1zM683.78 347.6l2.8 2.1l-2.8 2.1l-2.8 -2.1zM716.24 343.1l2.8 2.1l-2.8 2.1l-2.8 -2.1zM748.7 340.1l2.8 2.1l-2.8 2.1l-2.8 -2.1zM781.16 336.1l2.8 2.1l-2.8 2.1l-2.8 -2.1zM813.62 327.7l2.8 2.1l-2.8 2.1l-2.8 -2.1zM846.08 320.8l2.8 2.1l-2.8 2.1l-2.8 -2.1zM878.54 312.4l2.8 2.1l-2.8 2.1l-2.8 -2.1z" fill="#000" stroke="#000" stroke-width="0.6"/>
<path class="l" d="M618.86 141.7L651.32 191.9L683.78 221.1L716.24 234.8L748.7 253.7L781.16 268.7L813.62 272L846.08 281L878.54 286.9M618.86 371.7L651.32 353.9L683.78 350.1L716.24 335.7L748.7 336.9L781.16 336.3L813.62 327.7L846.08 320.5L878.54 313.3" stroke="#1090ff"/>
<path class="l" d="M618.86 110.8L651.32 185L683.78 216.9L716.24 231.8L748.7 246.7L781.16 260.7L813.62 270.5L846.08 280.6L878.54 289.3M618.86 346.8L651.32 352.9L683.78 355.4L716.24 347.7L748.7 344.6L781.16 338.2L813.62 329.7L846.08 322.7L878.54 316" stroke="#00ff00"/>
<path class="l" d="M618.86 126L651.32 184.6L683.78 212.9L716.24 226.4L748.7 245.4L781.16 255.2L813.62 272.7L846.08 281.2L878.54 289.5M618.86 348.2L651.32 352.6L683.78 348.4L716.24 356.5L748.7 346.2L781.16 341.1L813.62 331.2L846.08 323L878.54 314.4" stroke="#ff2000"/>
<g class="h"><text x="586.4" y="427" text-anchor="middle">0.0</text><text x="651.32" y="427" text-anchor="middle">0.2</text><text x="716.24" y="427" text-anchor="middle">0.4</text><text x="781.16" y="427" text-anchor="middle">0.6</text><text x="846.08" y="427" text-anchor="middle">0.8</text><text x="911" y="427" text-anchor="middle">1.0</text><text x="579.4" y="41.55" text-anchor="end">5</text><text x="579.4" y="93.59" text-anchor="end">4</text><text x="579.4" y="145.64" text-anchor="end">3</text><text x="579.4" y="197.68" text-anchor="end">2</text><text x="579.4" y="249.72" text-anchor="end">1</text><text x="579.4" y="301.76" text-anchor="end">0</text><text x="579.4" y="353.81" text-anchor="end">-1</text><text x="579.4" y="405.85" text-anchor="end">-2</text><text x="748.7" y="450" text-anchor="middle">x</text><text transform="translate(536.4 218) rotate(-90)" text-anchor="middle">&#916;A<tspan dy="4" font-size="11">NG</tspan><tspan dy="-4">(x)</tspan></text><text x="666.4" y="72">M(z<tspan dy="4" font-size="11">f</tspan><tspan dy="-4"></tspan>) = 0.75 M<tspan dy="4" font-size="11">o</tspan></text><text x="666.4" y="98">2.0e13 &lt; M &lt; 2.82e13</text><text x="666.4" y="124">2.82e13 &lt; M &lt; 4.88e13</text><text x="666.4" y="150">M &gt; 4.88e13</text></g>
</svg>
</body></html>
